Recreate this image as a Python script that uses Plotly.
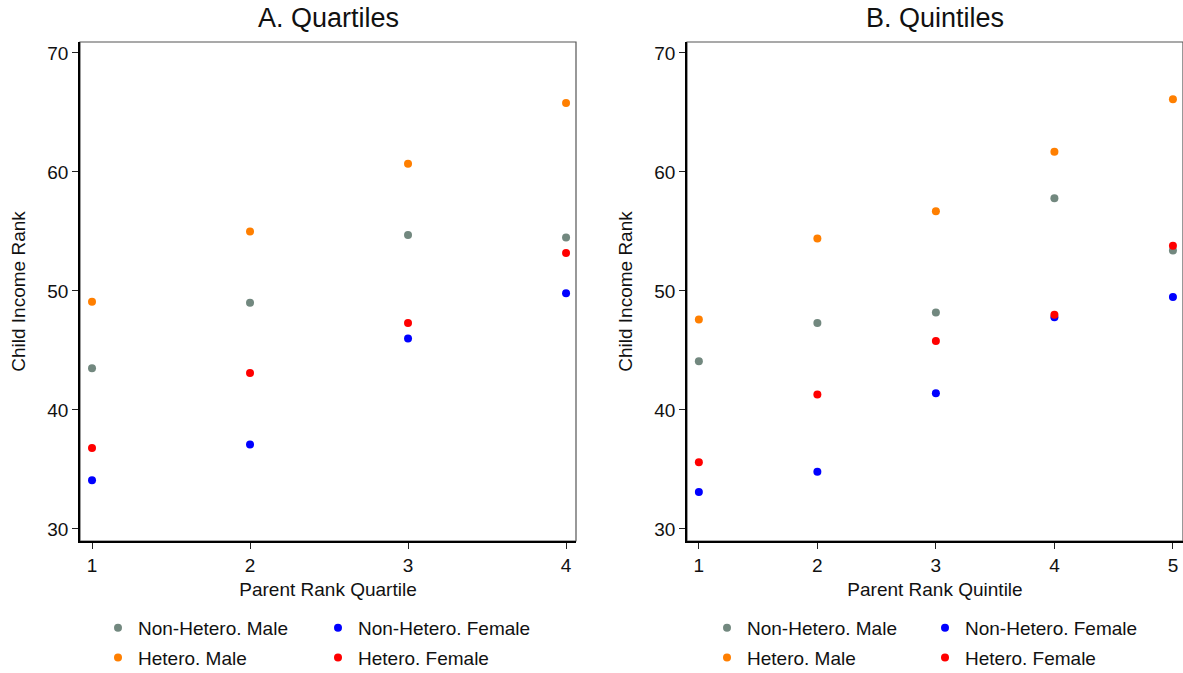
import plotly.graph_objects as go

# ---------------- data ----------------
series_names = ["Non-Hetero. Male", "Hetero. Male", "Non-Hetero. Female", "Hetero. Female"]
series_colors = ["#72887f", "#ff7f00", "#0000ff", "#ff0000"]

quartiles = [1, 2, 3, 4]
quart_nonhetero_male = [43.5, 49.0, 54.7, 54.5]
quart_hetero_male = [49.1, 55.0, 60.7, 65.8]
quart_nonhetero_female = [34.1, 37.1, 46.0, 49.8]
quart_hetero_female = [36.8, 43.1, 47.3, 53.2]

quintiles = [1, 2, 3, 4, 5]
quint_nonhetero_male = [44.1, 47.3, 48.2, 57.8, 53.4]
quint_hetero_male = [47.6, 54.4, 56.7, 61.7, 66.1]
quint_nonhetero_female = [33.1, 34.8, 41.4, 47.8, 49.5]
quint_hetero_female = [35.6, 41.3, 45.8, 48.0, 53.8]

y_ticks = [30, 40, 50, 60, 70]

# ---------------- figure ----------------
W, H = 1183, 673
FONT = "Arial, Liberation Sans, Helvetica, sans-serif"
FS = 19

fig = go.Figure()

quart_series = [quart_nonhetero_male, quart_hetero_male, quart_nonhetero_female, quart_hetero_female]
quint_series = [quint_nonhetero_male, quint_hetero_male, quint_nonhetero_female, quint_hetero_female]
# legend columns: col1 = male series, col2 = female series
legA = ["legend", "legend", "legend2", "legend2"]
legB = ["legend3", "legend3", "legend4", "legend4"]

for i, (name, col, ys) in enumerate(zip(series_names, series_colors, quart_series)):
    fig.add_trace(go.Scatter(
        x=quartiles, y=ys, mode="markers", name=name,
        marker=dict(color=col, size=8, line=dict(width=0)),
        xaxis="x", yaxis="y", legend=legA[i], legendgroup="a%d" % i,
    ))
for i, (name, col, ys) in enumerate(zip(series_names, series_colors, quint_series)):
    fig.add_trace(go.Scatter(
        x=quintiles, y=ys, mode="markers", name=name,
        marker=dict(color=col, size=8, line=dict(width=0)),
        xaxis="x2", yaxis="y2", legend=legB[i], legendgroup="b%d" % i,
    ))

def px_x(p):
    return p / W

def px_y(p):
    return 1 - p / H

axA = (80, 576)
axB = (687, 1183)
ytop, ybot = 42, 541

common_axis = dict(
    showgrid=False, zeroline=False, showline=True, linecolor="black", linewidth=1.5,
    ticks="outside", ticklen=6, tickwidth=1.2, tickcolor="#222",
    tickfont=dict(family=FONT, size=FS, color="#111"),
    title_font=dict(family=FONT, size=FS, color="#111"),
    automargin=False,
)

fig.update_layout(
    width=W, height=H,
    margin=dict(l=0, r=0, t=0, b=0, autoexpand=False),
    paper_bgcolor="white", plot_bgcolor="white",
    font=dict(family=FONT, color="#111"),
    xaxis=dict(domain=[px_x(axA[0]), px_x(axA[1])], range=[0.924, 4.063],
               tickvals=quartiles, title=dict(text="Parent Rank Quartile", standoff=8),
               anchor="y", **common_axis),
    yaxis=dict(domain=[px_y(ybot), px_y(ytop)], range=[28.99, 70.92],
               tickvals=y_ticks, title=dict(text="Child Income Rank", standoff=17),
               anchor="x", **common_axis),
    xaxis2=dict(domain=[px_x(axB[0]), px_x(axB[1])], range=[0.9, 5.085],
                tickvals=quintiles, title=dict(text="Parent Rank Quintile", standoff=8),
                anchor="y2", **common_axis),
    yaxis2=dict(domain=[px_y(ybot), px_y(ytop)], range=[28.99, 70.92],
                tickvals=y_ticks, title=dict(text="Child Income Rank", standoff=17),
                anchor="x2", **common_axis),
)

leg_common = dict(font=dict(family=FONT, size=FS, color="#111"), bgcolor="rgba(0,0,0,0)",
                  orientation="v", xanchor="left", yanchor="top", tracegroupgap=2,
                  itemclick=False, itemdoubleclick=False)
leg_top = px_y(609)
fig.update_layout(
    legend=dict(x=px_x(98), y=leg_top, **leg_common),
    legend2=dict(x=px_x(318), y=leg_top, **leg_common),
    legend3=dict(x=px_x(707), y=leg_top, **leg_common),
    legend4=dict(x=px_x(925), y=leg_top, **leg_common),
)

# panel titles
for text, (a, b) in [("A. Quartiles", axA), ("B. Quintiles", axB)]:
    fig.add_annotation(text=text, x=px_x((a + b) / 2), y=px_y(18), xref="paper", yref="paper",
                       showarrow=False, xanchor="center", yanchor="middle",
                       font=dict(family=FONT, size=27, color="#111"))

# grey frame (top/right border) around each plot area
for xr, yr in [("x domain", "y domain"), ("x2 domain", "y2 domain")]:
    fig.add_shape(type="rect", xref=xr, yref=yr, x0=0, x1=1, y0=0, y1=1,
                  line=dict(color="#555", width=1.2), layer="below")

fig.write_html("out.html")
